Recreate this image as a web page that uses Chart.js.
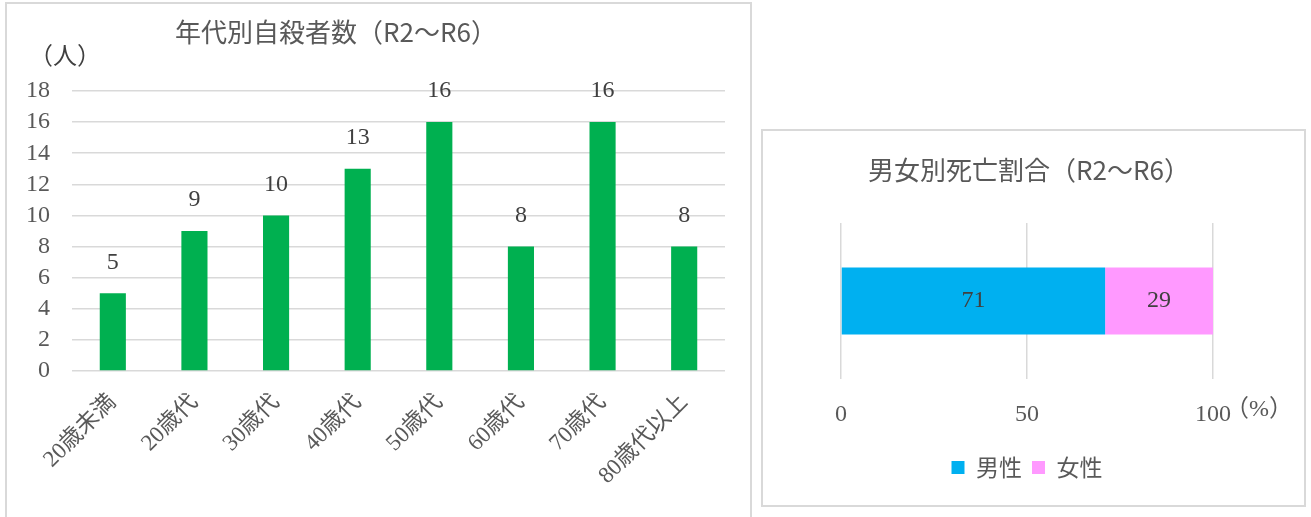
<!DOCTYPE html>
<html lang="ja">
<head>
<meta charset="utf-8">
<script src="https://cdn.jsdelivr.net/npm/chart.js@4.4.1/dist/chart.umd.min.js"></script>
<style>
  body { margin: 0; background: #fff; width: 1311px; height: 517px; overflow: hidden; position: relative; }
  .box { position: absolute; border: 2px solid #d9d9d9; background: #fff; }
  .box canvas { display: block; }
  #boxAge { left: 5px; top: 2px; width: 743px; height: 530px; }
  #boxSex { left: 761px; top: 129px; width: 541px; height: 374px; }
</style>
</head>
<body>
<div class="box" id="boxAge"><canvas id="chart-age" width="743" height="530"></canvas></div>
<div class="box" id="boxSex"><canvas id="chart-sex" width="541" height="374"></canvas></div>
<script>
// chart data
const ageLabels = ['20歳未満', '20歳代', '30歳代', '40歳代', '50歳代', '60歳代', '70歳代', '80歳代以上'];
const ageCounts = [5, 9, 10, 13, 16, 8, 16, 8];
const ageAxisMax = 18;
const ageAxisStep = 2;

const sexCategory = ['R2～R6'];
const sexLabels = ['男性', '女性'];
const maleShare = [71];
const femaleShare = [29];
const shareAxisMax = 100;
const shareAxisStep = 50;

const colors = {
  green: '#00b050',
  blue: '#00b0f0',
  pink: '#ff99ff',
  text: '#595959',
  label: '#404040',
  grid: '#d9d9d9'
};

const SERIF = '"Liberation Serif", "Noto Sans CJK JP", serif';
const SANS = '"Noto Sans CJK JP", "Noto Sans", sans-serif';

/**
 * Value labels on bars (top of column or centre of segment)
 */
const valueLabelPlugin = {
  id: 'valueLabels',
  afterDatasetsDraw(chart, args, opts) {
    const ctx = chart.ctx;
    ctx.save();
    ctx.font = opts.font;
    ctx.fillStyle = opts.color;
    ctx.textAlign = 'center';
    ctx.textBaseline = 'middle';
    chart.data.datasets.forEach(function(ds, di) {
      chart.getDatasetMeta(di).data.forEach(function(bar, i) {
        const v = ds.data[i];
        if (opts.anchor === 'center') {
          const c = bar.getCenterPoint();
          ctx.fillText(v, c.x, c.y);
        } else {
          ctx.fillText(v, bar.x, bar.y - opts.offset);
        }
      });
    });
    ctx.restore();
  }
};

/**
 * Free text: title and unit captions
 */
const captionPlugin = {
  id: 'captions',
  afterDraw(chart, args, opts) {
    const ctx = chart.ctx;
    ctx.save();
    ctx.textAlign = 'center';
    ctx.textBaseline = 'middle';
    (opts.items || []).forEach(function(it) {
      ctx.font = it.font;
      ctx.fillStyle = it.color;
      ctx.fillText(it.text, it.x, it.y);
    });
    ctx.restore();
  }
};

new Chart(document.getElementById('chart-age'), {
  type: 'bar',
  data: {
    labels: ageLabels,
    datasets: [{
      label: '自殺者数',
      data: ageCounts,
      backgroundColor: colors.green,
      borderWidth: 0,
      barPercentage: 0.32,
      categoryPercentage: 1
    }]
  },
  options: {
    responsive: false,
    animation: false,
    layout: { padding: { left: 0, right: 25, top: 87, bottom: 0 } },
    plugins: {
      legend: { display: false },
      tooltip: { enabled: false },
      valueLabels: { font: '24px ' + SERIF, color: colors.label, offset: 31 },
      captions: {
        items: [
          { text: '年代別自殺者数（R2～R6）', x: 329, y: 28, font: '26px ' + SANS, color: colors.text },
          { text: '（人）', x: 58, y: 54, font: '24px ' + SERIF, color: colors.label }
        ]
      }
    },
    scales: {
      x: {
        grid: { display: false },
        border: { display: false },
        ticks: {
          color: colors.text,
          font: { family: SERIF, size: 23 },
          autoSkip: false,
          minRotation: 45,
          maxRotation: 45,
          padding: 10
        },
        afterFit: function(axis) { axis.height = 163; }
      },
      y: {
        min: 0,
        max: ageAxisMax,
        grid: { color: colors.grid, lineWidth: 1.5, drawTicks: false },
        border: { display: false },
        ticks: {
          stepSize: ageAxisStep,
          autoSkip: false,
          color: colors.text,
          font: { family: SERIF, size: 24 },
          padding: 22
        },
        afterFit: function(axis) { axis.width = 65; }
      }
    }
  },
  plugins: [valueLabelPlugin, captionPlugin]
});

new Chart(document.getElementById('chart-sex'), {
  type: 'bar',
  data: {
    labels: sexCategory,
    datasets: [
      {
        label: sexLabels[0],
        data: maleShare,
        backgroundColor: colors.blue,
        borderWidth: 0,
        barPercentage: 0.43,
        categoryPercentage: 1
      },
      {
        label: sexLabels[1],
        data: femaleShare,
        backgroundColor: colors.pink,
        borderWidth: 0,
        barPercentage: 0.43,
        categoryPercentage: 1
      }
    ]
  },
  options: {
    indexAxis: 'y',
    responsive: false,
    animation: false,
    layout: { padding: { left: 78, right: 91, top: 92, bottom: 16 } },
    plugins: {
      legend: {
        position: 'bottom',
        labels: {
          boxWidth: 13,
          boxHeight: 13,
          padding: 10,
          color: colors.text,
          font: { family: SANS, size: 23 }
        }
      },
      tooltip: { enabled: false },
      valueLabels: { font: '24px ' + SERIF, color: colors.label, anchor: 'center' },
      captions: {
        items: [
          { text: '男女別死亡割合（R2～R6）', x: 266, y: 39, font: '26px ' + SANS, color: colors.text },
          { text: '（%）', x: 496, y: 279, font: '24px ' + SERIF, color: colors.text }
        ]
      }
    },
    scales: {
      x: {
        stacked: true,
        min: 0,
        max: shareAxisMax,
        grid: { color: colors.grid, lineWidth: 1.5, drawTicks: false },
        border: { display: false },
        ticks: {
          stepSize: shareAxisStep,
          color: colors.text,
          font: { family: SERIF, size: 24 },
          padding: 21
        },
        afterFit: function(axis) { axis.height = 67; }
      },
      y: {
        stacked: true,
        display: false
      }
    }
  },
  plugins: [valueLabelPlugin, captionPlugin]
});
</script>
</body>
</html>
